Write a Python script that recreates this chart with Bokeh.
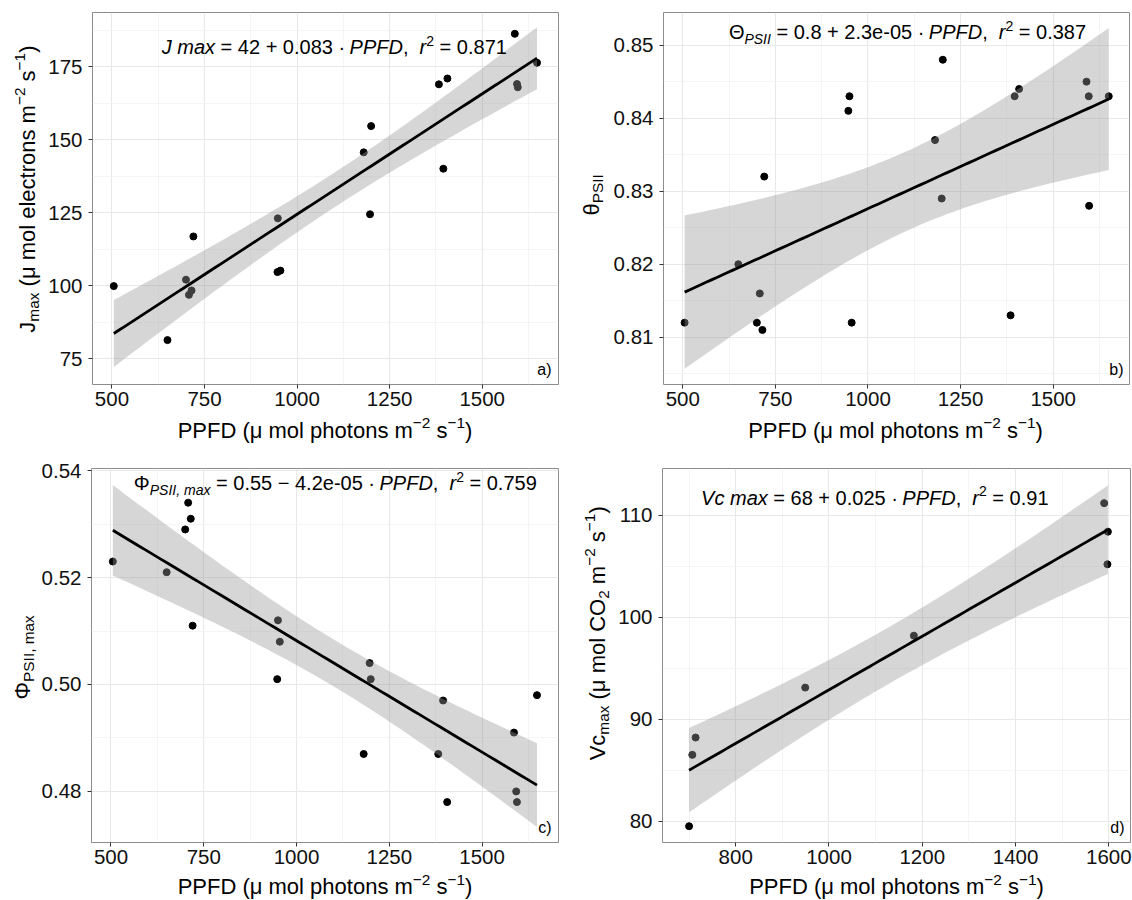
import numpy as np
from bokeh.plotting import figure
from bokeh.models import Label, FixedTicker, PrintfTickFormatter, Range1d
from bokeh.layouts import column, row
from bokeh.embed import file_html
from bokeh.resources import INLINE

FONT = "Liberation Sans"

# ---------------- data ----------------
a_ppfd = [505, 650, 700, 708, 715, 720, 948, 947, 955, 1180, 1200, 1197, 1383, 1406, 1395, 1588, 1594, 1596, 1648]
a_jmax = [99.8, 81.3, 102.0, 96.8, 98.3, 116.8, 123.0, 104.6, 105.1, 145.6, 154.6, 124.4, 168.9, 170.9, 140.0, 186.2, 169.0, 167.9, 176.3]

b_ppfd = [505, 650, 708, 700, 715, 720, 950, 947, 956, 1181, 1202, 1199, 1385, 1396, 1408, 1590, 1596, 1597, 1650]
b_theta = [0.812, 0.820, 0.816, 0.812, 0.811, 0.832, 0.843, 0.841, 0.812, 0.837, 0.848, 0.829, 0.813, 0.843, 0.844, 0.845, 0.843, 0.828, 0.843]

c_ppfd = [505, 650, 700, 708, 715, 720, 950, 955, 948, 1181, 1197, 1200, 1382, 1395, 1406, 1586, 1592, 1594, 1648]
c_phi = [0.523, 0.521, 0.529, 0.534, 0.531, 0.511, 0.512, 0.508, 0.501, 0.487, 0.504, 0.501, 0.487, 0.497, 0.478, 0.491, 0.480, 0.478, 0.498]

d_ppfd = [700, 707, 714, 949, 1182, 1590, 1598, 1597]
d_vcmax = [79.5, 86.5, 88.2, 93.1, 98.2, 111.2, 108.4, 105.2]

a_xticks = [500, 750, 1000, 1250, 1500]
a_xminor = [625, 875, 1125, 1375, 1625]
a_yticks = [75, 100, 125, 150, 175]
a_yminor = [87.5, 112.5, 137.5, 162.5, 187.5]
b_yticks = [0.81, 0.82, 0.83, 0.84, 0.85]
b_yminor = [0.805, 0.815, 0.825, 0.835, 0.845]
c_yticks = [0.48, 0.50, 0.52, 0.54]
c_yminor = [0.47, 0.49, 0.51, 0.53]
d_xticks = [800, 1000, 1200, 1400, 1600]
d_xminor = [700, 900, 1100, 1300, 1500]
d_yticks = [80, 90, 100, 110]
d_yminor = [85, 95, 105]

T975 = {17: 2.1098, 6: 2.4469}

# Arial / Liberation Sans advance widths (1/1000 em)
CW = {' ': 278, '(': 333, ')': 333, ',': 278, '-': 333, '.': 278, '=': 584, '+': 584,
      '·': 278, '−': 584, 'μ': 576, 'Θ': 778, 'θ': 556, 'Φ': 798,
      'C': 722, 'D': 722, 'F': 611, 'I': 278, 'J': 500, 'O': 778, 'P': 667, 'S': 667, 'V': 667,
      'a': 556, 'c': 500, 'e': 556, 'h': 556, 'l': 222, 'm': 833, 'n': 556, 'o': 556,
      'p': 556, 'r': 333, 's': 500, 't': 278, 'x': 500}
for dch in "0123456789":
    CW[dch] = 556

BL = 0.34  # correction: rendered alphabetic baseline sits this many em too low


def tw(s, size):
    return sum(CW.get(ch, 556) for ch in s) / 1000.0 * size


def rich(p, x, y, pieces, size, x_off=0.0, y_off=0.0, align="center", angle=0.0, color="black"):
    total = sum(tw(t, size * f) for t, f, sh, st in pieces)
    pos = -total / 2 if align == "center" else 0.0
    for t, f, sh, st in pieces:
        fs = size * f
        lead = len(t) - len(t.lstrip(" "))
        s = t.strip(" ")
        p0 = pos + tw(" " * lead, fs)
        perp = sh * size + BL * fs
        if angle == 0:
            xo, yo = x_off + p0, y_off + perp
        else:
            xo, yo = x_off - perp, y_off + p0
        if s:
            p.add_layout(Label(x=x, y=y, x_offset=xo, y_offset=yo, text=s,
                               text_font=FONT, text_font_size=f"{fs:.2f}px",
                               text_font_style=st, text_align="left",
                               text_baseline="alphabetic", angle=angle,
                               text_color=color))
        pos += tw(t, fs)


def fit(x, y, n_grid=80):
    x = np.asarray(x, float)
    y = np.asarray(y, float)
    n = len(x)
    mx = x.mean()
    sxx = ((x - mx) ** 2).sum()
    b1 = ((x - mx) * (y - y.mean())).sum() / sxx
    b0 = y.mean() - b1 * mx
    res = y - (b0 + b1 * x)
    s = np.sqrt((res ** 2).sum() / (n - 2))
    g = np.linspace(x.min(), x.max(), n_grid)
    yh = b0 + b1 * g
    se = s * np.sqrt(1.0 / n + (g - mx) ** 2 / sxx)
    t = T975[n - 2]
    return g, yh, yh - t * se, yh + t * se


def panel(width, height, mbl, mbr, mbt, mbb, xr, yr, xt, xmt, yt, ymt, xs, ys, yfmt=None):
    p = figure(width=width, height=height, x_range=Range1d(*xr), y_range=Range1d(*yr),
               output_backend="svg", toolbar_location=None,
               min_border_left=mbl, min_border_right=mbr, min_border_top=mbt, min_border_bottom=mbb)
    p.background_fill_color = "white"
    p.border_fill_color = "white"
    p.outline_line_color = "#8c8c8c"
    p.outline_line_width = 1
    xtk = FixedTicker(ticks=xt, minor_ticks=xmt)
    ytk = FixedTicker(ticks=yt, minor_ticks=ymt)
    p.xaxis.ticker = xtk
    p.xgrid.ticker = xtk
    p.yaxis.ticker = ytk
    p.ygrid.ticker = ytk
    if yfmt:
        p.yaxis.formatter = PrintfTickFormatter(format=yfmt)
    for g in (p.xgrid, p.ygrid):
        g.grid_line_color = "#E8E8E8"
        g.grid_line_width = 1.1
        g.minor_grid_line_color = "#F0F0F0"
        g.minor_grid_line_width = 0.7
    for ax in (p.xaxis, p.yaxis):
        ax.axis_line_color = None
        ax.major_tick_line_color = "#333333"
        ax.major_tick_out = 4
        ax.major_tick_in = 0
        ax.minor_tick_line_color = None
        ax.major_label_text_font = FONT
        ax.major_label_text_font_size = "20.5px"
        ax.major_label_text_color = "#111111"
    p.xaxis.major_label_standoff = 3
    p.yaxis.major_label_standoff = 6
    p.scatter(xs, ys, size=7, color="black", line_color="black")
    g, yh, lo, hi = fit(xs, ys)
    p.varea(x=g, y1=lo, y2=hi, fill_color="#999999", fill_alpha=0.4)
    p.line(g, yh, line_color="black", line_width=2.8)
    return p


def letter(p, xr, yr, text, dx):
    rich(p, xr[1], yr[0], [(text, 1, 0, "normal")], 16, x_off=dx - tw(text, 16) / 2, y_off=10)


def title_fig(width, height):
    p = figure(width=width, height=height, x_range=Range1d(0, width), y_range=Range1d(0, height),
               output_backend="svg", toolbar_location=None, x_axis_type=None, y_axis_type=None,
               min_border=0, min_border_left=0, min_border_right=0, min_border_top=0, min_border_bottom=0)
    p.outline_line_color = None
    p.background_fill_color = "white"
    p.border_fill_color = "white"
    p.grid.visible = False
    return p


N, I = "normal", "italic"
xtitle = [("PPFD (μ mol photons m", 1, 0, N), ("−2", 0.7, 0.42, N), (" s", 1, 0, N),
          ("−1", 0.7, 0.42, N), (")", 1, 0, N)]
TS = 22
ES = 20
VA = np.pi / 2

# ---------- panel a ----------
axr, ayr = (447.5, 1706), (66.1, 193.5)
pa = panel(525, 415, 46, 12, 12, 30, axr, ayr, a_xticks, a_xminor, a_yticks, a_yminor, a_ppfd, a_jmax)
rich(pa, axr[0], ayr[1], [("J max", 1, 0, I), (" = 42 + 0.083 · ", 1, 0, N), ("PPFD", 1, 0, I),
                          (",  ", 1, 0, N), ("r", 1, 0, I), ("2", 0.7, 0.42, N), (" = 0.871", 1, 0, N)],
     ES, 241.8, -41.3)
letter(pa, axr, ayr, "a)", -7)
yta = title_fig(45, 415)
rich(yta, 34, 218, [("J", 1, 0, N), ("max", 0.7, -0.2, N), (" (μ mol electrons m", 1, 0, N),
                    ("−2", 0.7, 0.42, N), (" s", 1, 0, N), ("−1", 0.7, 0.42, N), (")", 1, 0, N)],
     TS, angle=VA)
xta = title_fig(570, 44)
rich(xta, 324.5, 22, xtitle, TS)

# ---------- panel b ----------
bxr, byr = (448, 1706), (0.80353, 0.85447)
pb = panel(522, 415, 51, 3, 12, 31, bxr, byr, a_xticks, a_xminor, b_yticks, b_yminor, b_ppfd, b_theta, "%.2f")
rich(pb, bxr[0], byr[1], [("Θ", 1, 0, N), ("PSII", 0.7, -0.25, I), (" = 0.8 + 2.3e-05 · ", 1, 0, N),
                          ("PPFD", 1, 0, I), (",  ", 1, 0, N), ("r", 1, 0, I), ("2", 0.7, 0.42, N),
                          (" = 0.387", 1, 0, N)],
     ES, 244, -26.3)
letter(pb, bxr, byr, "b)", -6)
ytb = title_fig(40, 415)
rich(ytb, 28, 211.5, [("θ", 1, 0, N), ("PSII", 0.7, -0.2, N)], TS, angle=VA)
xtb = title_fig(562, 44)
rich(xtb, 325, 22, xtitle, TS)

# ---------- panel c ----------
cxr, cyr = (447.5, 1706), (0.47044, 0.5404)
pc = panel(532, 413, 53, 12, 9, 30, cxr, cyr, a_xticks, a_xminor, c_yticks, c_yminor, c_ppfd, c_phi, "%.2f")
rich(pc, cxr[0], cyr[1], [("Φ", 1, 0, N), ("PSII, max", 0.7, -0.25, I), (" = 0.55 − 4.2e-05 · ", 1, 0, N),
                          ("PPFD", 1, 0, I), (",  ", 1, 0, N), ("r", 1, 0, I), ("2", 0.7, 0.42, N),
                          (" = 0.759", 1, 0, N)],
     ES, 243.8, -21.7)
letter(pc, cxr, cyr, "c)", -7)
ytc = title_fig(38, 413)
rich(ytc, 29, 204.5, [("Φ", 1, 0, N), ("PSII, max", 0.7, -0.2, N)], TS, angle=VA)
xtc = title_fig(570, 27)
rich(xtc, 324.5, 5.5, xtitle, TS)

# ---------- panel d ----------
dxr, dyr = (643, 1646.5), (77.9, 114.6)
pd_ = panel(517, 413, 47, 2, 8, 30, dxr, dyr, d_xticks, d_xminor, d_yticks, d_yminor, d_ppfd, d_vcmax)
rich(pd_, dxr[0], dyr[1], [("Vc max", 1, 0, I), (" = 68 + 0.025 · ", 1, 0, N), ("PPFD", 1, 0, I),
                           (",  ", 1, 0, N), ("r", 1, 0, I), ("2", 0.7, 0.42, N), (" = 0.91", 1, 0, N)],
     ES, 212.3, -36)
letter(pd_, dxr, dyr, "d)", -6)
ytd = title_fig(45, 413)
rich(ytd, 34, 231, [("Vc", 1, 0, N), ("max", 0.7, -0.2, N), (" (μ mol CO", 1, 0, N),
                    ("2", 0.7, -0.2, N), (" m", 1, 0, N), ("−2", 0.7, 0.42, N), (" s", 1, 0, N),
                    ("−1", 0.7, 0.42, N), (")", 1, 0, N)],
     TS, angle=VA)
xtd = title_fig(562, 27)
rich(xtd, 326, 5.5, xtitle, TS)

layout = column(row(yta, pa, ytb, pb), row(xta, xtb), row(ytc, pc, ytd, pd_), row(xtc, xtd))
open("out.html", "w").write(file_html(layout, INLINE))
